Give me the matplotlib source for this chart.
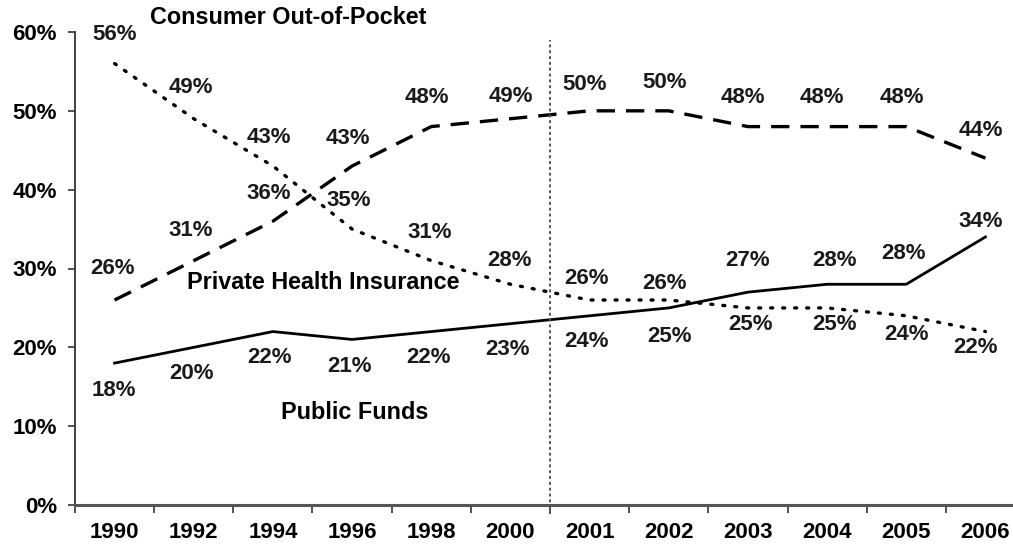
import matplotlib
matplotlib.use("Agg")
import matplotlib.pyplot as plt

years = ["1990", "1992", "1994", "1996", "1998", "2000",
         "2001", "2002", "2003", "2004", "2005", "2006"]
public_funds = [18, 20, 22, 21, 22, 23, 24, 25, 27, 28, 28, 34]
private_insurance = [26, 31, 36, 43, 48, 49, 50, 50, 48, 48, 48, 44]
out_of_pocket = [56, 49, 43, 35, 31, 28, 26, 26, 25, 25, 24, 22]

# label nudges in pixels (dx, dy), dy positive = up
pub_dx = [-1, -2, -3, -3, -3, -3, -3, 1, 0, 7, -3, -5]
pub_dy = [-27, -26, -26, -27, -26, -26, -26, -29, 32, 24, 31, 15]
priv_dx = [-2, -3, -4, -4, -4, 0, -5, -4, -5, -5, -4, -5]
priv_dy = [32, 30, 28, 28, 29, 22, 26, 28, 29, 29, 29, 28]
oop_dx = [0, -3, -4, -3, -2, -1, -3, -4, 3, 7, 0, -10]
oop_dy = [29, 31, 29, 29, 28, 24, 22, 17, -17, -17, -19, -16]

plt.rcParams["font.family"] = ["Liberation Sans", "DejaVu Sans"]
plt.rcParams["font.weight"] = "bold"

fig = plt.figure(figsize=(10.13, 5.5), dpi=100)
ax = fig.add_axes([75 / 1013, 45 / 550, 950 / 1013, 473 / 550])

x = list(range(len(years)))
ax.plot(x, public_funds, color="black", lw=2.0, ls="-")
ax.plot(x, private_insurance, color="black", lw=2.4, ls=(0, (5.5, 3.3)))
ax.plot(x, out_of_pocket, color="black", lw=2.4, ls=(0, (0.6, 3.0)),
        dash_capstyle="round")

# break between the two-year and yearly series
ax.vlines(5.5, -1.2, 59, colors="#555555", linestyles=(0, (1.5, 1.5)),
          lw=1.4, clip_on=False)

px = 72 / 100
box = dict(facecolor="white", edgecolor="none", pad=0.5)


def label(vals, dxs, dys):
    for i, v in enumerate(vals):
        ax.annotate(f"{v}%", (i, v), xytext=(dxs[i] * px, dys[i] * px),
                    textcoords="offset points", ha="center", va="center",
                    fontsize=16, fontweight="bold", color="#1a1a1a",
                    bbox=box, zorder=4)


label(public_funds, pub_dx, pub_dy)
label(private_insurance, priv_dx, priv_dy)
label(out_of_pocket, oop_dx, oop_dy)

fig.text(150 / 1013, 1 - 18 / 550, "Consumer Out-of-Pocket",
         ha="left", va="center", fontsize=16.8, fontweight="bold")
ax.annotate("Private Health Insurance", (0, 26), xytext=(209 * px, 18 * px),
            textcoords="offset points", ha="center", va="center",
            fontsize=16.8, fontweight="bold")
ax.annotate("Public Funds", (0, 18), xytext=(240 * px, -49 * px),
            textcoords="offset points", ha="center", va="center",
            fontsize=16.8, fontweight="bold")

ax.set_xlim(-0.5, len(years) - 0.5)
ax.set_ylim(0, 60)
ax.set_yticks(range(0, 61, 10))
ax.set_yticklabels([f"{t}%" for t in range(0, 61, 10)])
ax.set_xticks([i - 0.5 for i in range(len(years))])
ax.set_xticklabels([])
ax.set_xticks(x, minor=True)
ax.set_xticklabels(years, minor=True)
ax.tick_params(axis="x", which="minor", length=0, pad=12, labelsize=16)
ax.tick_params(axis="x", which="major", length=6, width=1.2, color="#333333")
ax.tick_params(axis="y", length=5, width=1.2, color="#333333", labelsize=16, pad=8)

for s in ["top", "right"]:
    ax.spines[s].set_visible(False)
ax.spines["left"].set_color("#333333")
ax.spines["left"].set_linewidth(1.3)
ax.spines["bottom"].set_color("#555555")
ax.spines["bottom"].set_linewidth(2.2)

fig.savefig("out.png", dpi=100)
